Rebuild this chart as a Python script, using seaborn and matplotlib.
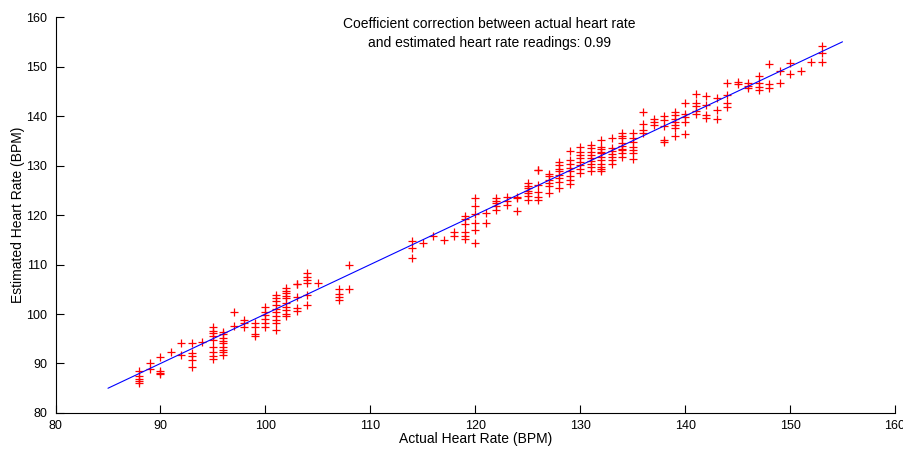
import numpy as np
import pandas as pd
import matplotlib
matplotlib.use('Agg')
import matplotlib.pyplot as plt
import seaborn as sns

# actual heart rate (BPM) and the estimates read for each actual value
actual_hr = [88, 89, 90, 91, 92, 93, 94, 95, 96, 97, 98, 99, 100, 101, 102, 103,
             104, 105, 107, 108, 114, 115, 116, 117, 118, 119, 120, 121, 122, 123,
             124, 125, 126, 127, 128, 129, 130, 131, 132, 133, 134, 135, 136, 137,
             138, 139, 140, 141, 142, 143, 144, 145, 146, 147, 148, 149, 150, 151,
             152, 153]
estimated_hr = [
    [88.5, 87.4, 86.9, 86.4, 86.1],
    [90.2, 88.9],
    [91.4, 88.5, 88.1, 87.8],
    [92.3],
    [94.1, 91.7],
    [94.2, 92.2, 91.5, 90.7, 89.2],
    [94.3],
    [97.3, 96.6, 96.1, 95.6, 94.7, 93.4, 92.4, 91.6, 90.9],
    [96.4, 95.9, 95.2, 94.6, 94.1, 93.4, 92.7, 92.4, 91.7],
    [100.5, 97.6],
    [98.8, 98.2, 97.4],
    [98.2, 97.4, 96.0, 95.5],
    [101.5, 100.5, 99.8, 98.9, 98.1, 97.3],
    [103.8, 103.2, 102.6, 101.8, 101.0, 100.5, 99.6, 98.8, 98.1, 96.7],
    [105.2, 104.7, 104.2, 103.7, 103.2, 102.2, 101.5, 100.8, 100.1, 99.6],
    [106.0, 106.1, 103.4, 101.2, 100.7],
    [108.2, 107.5, 106.9, 106.2, 103.8, 101.8],
    [106.3],
    [105.1, 104.0, 103.4, 102.8],
    [110.0, 105.0],
    [114.7, 113.3, 111.3],
    [114.3],
    [115.8],
    [114.9],
    [116.6, 115.8],
    [119.9, 119.1, 118.2, 116.6, 115.8, 115.2],
    [123.5, 121.9, 120.3, 118.3, 117.0, 114.4],
    [120.4, 118.3],
    [123.4, 122.9, 122.4, 121.8, 121.0],
    [123.6, 122.9, 122.0],
    [123.6, 123.5, 120.8],
    [126.4, 125.9, 125.4, 124.8, 124.4, 123.9, 123.0],
    [129.1, 129.0, 126.1, 124.7, 123.7, 123.0],
    [128.3, 127.8, 127.1, 126.4, 125.9, 124.4],
    [130.8, 130.1, 129.4, 128.8, 128.1, 127.4, 126.7, 125.4],
    [133.0, 131.1, 130.4, 129.6, 128.8, 127.9, 127.1, 126.3],
    [133.7, 132.8, 132.1, 131.5, 130.8, 130.1, 129.4, 128.4],
    [134.1, 133.5, 132.8, 132.1, 131.5, 131.0, 130.4, 129.8, 128.8],
    [135.2, 133.8, 133.3, 132.8, 132.5, 131.8, 131.1, 130.4, 129.8, 129.2, 128.8],
    [135.5, 133.5, 132.9, 132.3, 131.8, 131.1, 130.4],
    [136.5, 136.0, 135.5, 134.5, 133.9, 133.3, 133.2, 132.5, 131.8],
    [136.5, 135.6, 134.8, 133.8, 133.1, 132.5, 131.3],
    [140.9, 138.4, 137.2, 136.5],
    [139.5, 138.8, 138.2],
    [140.0, 139.3, 138.0, 135.2, 134.7],
    [140.9, 140.2, 139.5, 138.8, 138.2, 137.5, 136.0],
    [142.7, 140.5, 139.9, 138.8, 136.3],
    [144.4, 142.7, 142.0, 141.1, 140.4],
    [144.0, 142.2, 140.2, 139.7],
    [143.6, 141.3, 139.5],
    [146.7, 144.2, 142.7, 141.9],
    [146.9, 146.4],
    [146.6, 146.1, 145.6],
    [148.1, 146.6, 145.9, 145.3],
    [150.5, 146.4, 145.6],
    [149.2, 146.6],
    [150.8, 148.4],
    [149.2],
    [150.9],
    [154.2, 152.7, 150.9],
]
fit_x = [85, 155]
fit_y = [85, 155]
coef = 0.99

rows = [(a, e) for a, ests in zip(actual_hr, estimated_hr) for e in ests]
df = pd.DataFrame(rows, columns=['actual', 'estimated'])
fit = pd.DataFrame({'x': fit_x, 'y': fit_y})

sns.set_style('white')
plt.rcParams['font.family'] = ['Liberation Sans', 'DejaVu Sans']

fig = plt.figure(figsize=(9.04, 4.49), dpi=100)
ax = fig.add_axes([0.0614, 0.0802, 0.9286, 0.8818])

sns.lineplot(data=fit, x='x', y='y', ax=ax, color='blue', linewidth=0.8)
sns.scatterplot(data=df, x='actual', y='estimated', ax=ax, marker='+',
                color='red', s=34, linewidth=0.9)

ax.set_xlim(80, 160)
ax.set_ylim(80, 160)
ax.set_xticks(range(80, 161, 10))
ax.set_yticks(range(80, 161, 10))
ax.tick_params(direction='in', length=6, width=0.8, labelsize=9,
               colors='black', bottom=True, left=True)
ax.tick_params(axis='x', pad=5)
ax.tick_params(axis='y', pad=6)
for side in ['top', 'right']:
    ax.spines[side].set_visible(False)
for side in ['left', 'bottom']:
    ax.spines[side].set_color('black')
    ax.spines[side].set_linewidth(0.8)

ax.set_xlabel('Actual Heart Rate (BPM)', fontsize=10, labelpad=0, color='black')
ax.set_ylabel('Estimated Heart Rate (BPM)', fontsize=10, labelpad=1, color='black')
ax.text(0.517, 1.0,
        'Coefficient correction between actual heart rate\n'
        'and estimated heart rate readings: %.2f' % coef,
        transform=ax.transAxes, ha='center', va='top', fontsize=10,
        linespacing=1.45, color='black')

fig.savefig('out.png', dpi=100)
